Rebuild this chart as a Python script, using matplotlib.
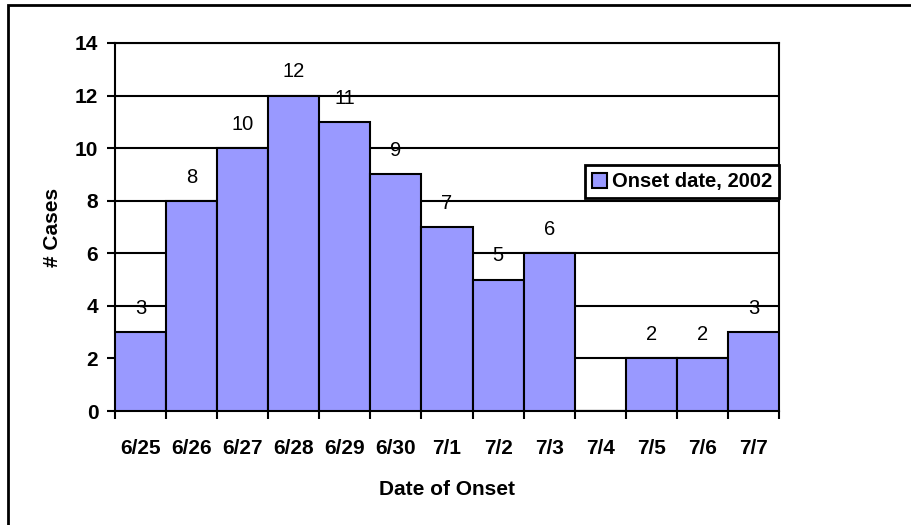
import numpy as np
import matplotlib.pyplot as plt
from matplotlib.patches import Rectangle
from matplotlib.ticker import FixedLocator

plt.rcParams['font.family'] = ['Liberation Sans', 'DejaVu Sans']

# Datos
fechas = ['6/25', '6/26', '6/27', '6/28', '6/29', '6/30', '7/1',
          '7/2', '7/3', '7/4', '7/5', '7/6', '7/7']
casos = [3, 8, 10, 12, 11, 9, 7, 5, 6, 0, 2, 2, 3]
yticks = [0, 2, 4, 6, 8, 10, 12, 14]

fig = plt.figure(figsize=(9.12, 5.25), dpi=100)
ax = fig.add_axes([0.1261, 0.2171, 0.7281, 0.701])

x = np.arange(len(fechas))
ax.bar(x, casos, width=1.0, color='#9999FF', edgecolor='black', linewidth=1.5,
       label='Onset date, 2002', zorder=3)

# Etiquetas de datos
for xi, v in zip(x, casos):
    if v > 0:
        ax.annotate(str(v), (xi, v), xytext=(0, 17), textcoords='offset points',
                    ha='center', va='center', fontsize=14.5, zorder=4)

ax.set_xlim(-0.5, len(fechas) - 0.5)
ax.set_ylim(0, 14)
ax.set_yticks(yticks)
ax.set_yticklabels([str(t) for t in yticks], fontsize=15, fontweight='bold')
ax.yaxis.grid(True, color='black', linewidth=1.5, zorder=1)
ax.set_axisbelow(True)

# Marcas en los bordes, etiquetas en el centro
ax.xaxis.set_major_locator(FixedLocator(np.arange(-0.5, len(fechas), 1.0)))
ax.set_xticklabels([])
ax.xaxis.set_minor_locator(FixedLocator(x))
ax.set_xticklabels(fechas, minor=True, fontsize=15, fontweight='bold')
ax.tick_params(axis='x', which='major', length=6, width=1.5, direction='out')
ax.tick_params(axis='x', which='minor', length=0, pad=20)
ax.tick_params(axis='y', length=6, width=1.5, direction='out', pad=6)

for s in ax.spines.values():
    s.set_linewidth(1.5)
    s.set_color('black')

ax.set_xlabel('Date of Onset', fontsize=15, fontweight='bold', labelpad=16)
ax.set_ylabel('# Cases', fontsize=15, fontweight='bold', labelpad=9)

leg = ax.legend(loc='upper right', bbox_to_anchor=(1.0, 0.668), fancybox=False,
                edgecolor='black', framealpha=1, borderpad=0.35,
                handlelength=0.75, handleheight=0.75, handletextpad=0.25,
                borderaxespad=0, prop={'weight': 'bold', 'size': 14.5})
leg.get_frame().set_linewidth(2)

# Marco exterior
fig.patches.append(Rectangle((8 / 912, -0.05), 1.2, 1.05 - 5 / 525,
                             transform=fig.transFigure, fill=False,
                             edgecolor='black', linewidth=2))

fig.savefig('out.png', dpi=100)
